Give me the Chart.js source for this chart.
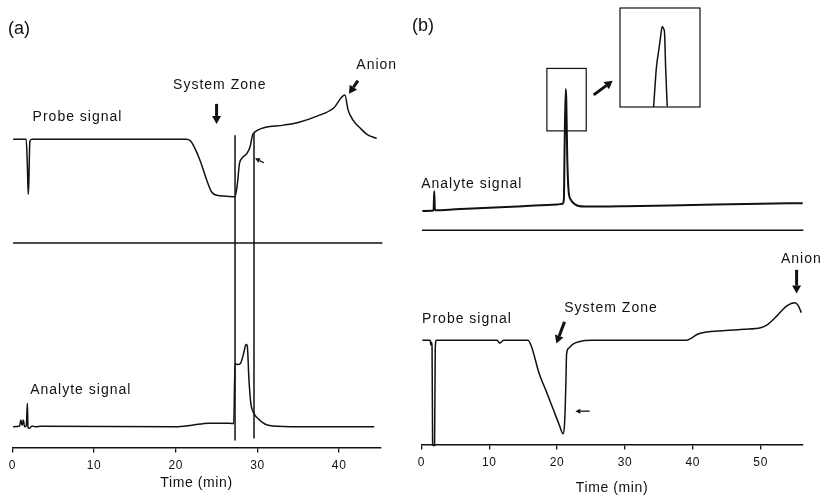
<!DOCTYPE html>
<html>
<head>
<meta charset="utf-8">
<script src="https://cdn.jsdelivr.net/npm/chart.js@4"></script>
<style>
  body { margin: 0; background: #fff; }
  #wrap { position: relative; width: 824px; height: 501px; background: #fff; }
  canvas { position: absolute; }
</style>
</head>
<body>
<div id="wrap">
  <canvas id="chartA" style="left:0;top:0" width="412" height="501"></canvas>
  <canvas id="chartB" style="left:412px;top:0" width="412" height="501"></canvas>
  <canvas id="inset" style="left:619px;top:7px" width="82" height="101"></canvas>
</div>
<script>
const INK = "#111";
const FONT = "'Liberation Sans', Arial, sans-serif";

// ---- panel (a) ----
const ticksA = [0, 10, 20, 30, 40];
const probeA_t = [0.1, 1.7, 1.85, 1.95, 2.02, 2.15, 2.4, 21.3, 21.8, 22.15, 22.97, 23.8, 24.4, 25.0, 26.2, 27.25,
  27.55, 27.8, 28.1, 28.7, 29.1, 29.4, 29.7, 30.7, 33.2, 35.2, 37.3, 39.3, 40.7, 41.1, 41.7, 42.6, 43.4, 44.6];
const probeA_v = [77, 77, 70, 63.2, 66, 76.5, 77, 77, 76.6, 75.5, 71.75, 66.75, 63.8, 63, 62.75, 62.6,
  65.9, 70.9, 72.2, 73.4, 75.1, 78, 78.8, 79.8, 80.5, 81.3, 82.75, 84.7, 88, 84.25, 81.75, 79.7, 78.2, 77.2];
const zeroA_t = [0.1, 45.3];
const zeroA_v = [51.1, 51.1];
const analyteA_t = [0.1, 0.9, 1.05, 1.2, 1.35, 1.5, 1.72, 1.84, 1.92, 2.1, 2.4, 2.8, 3.5, 20, 22, 24, 26, 27.1,
  27.26, 27.66, 27.95, 28.3, 28.6, 28.75, 28.97, 29.2, 29.5, 30.1, 30.9, 31.9, 35, 44.3];
const analyteA_v = [5.2, 5.4, 6.9, 5.6, 6.9, 5.2, 5.5, 11.1, 5.0, 4.8, 5.4, 5.2, 5.3, 5.2, 5.6, 6.1, 6.1, 6.0,
  20.9, 20.75, 21.1, 23.4, 25.75, 25.5, 16.75, 10.9, 8.8, 7.2, 5.9, 5.4, 5.2, 5.2];
const markA1_t = [27.26, 27.26];
const markA1_v = [78, 1.75];
const markA2_t = [29.58, 29.58];
const markA2_v = [78.5, 2.25];

// ---- panel (b) ----
const ticksB = [0, 10, 20, 30, 40, 50];
const analyteB_t = [0.15, 1.8, 1.9, 2.0, 5, 10, 15, 20, 20.8, 21.0, 21.12, 21.28, 21.36, 21.5, 21.7, 22, 22.6, 24, 30, 40, 50, 56.2];
const analyteB_v = [58.3, 58.4, 63.3, 58.5, 58.7, 59.1, 59.5, 59.9, 60.1, 61, 75, 88.75, 86, 72, 63.3, 61.2, 60, 59.4, 59.5, 59.8, 60.1, 60.25];
const zeroB_t = [0.1, 56.3];
const zeroB_v = [53.5, 53.5];
const probeB_t = [0.15, 1.3, 1.4, 1.5, 1.58, 1.66, 1.75, 1.95, 2.05, 2.2, 11.2, 11.5, 11.8, 12.1, 15.7, 16.2, 17.4, 18.4,
  19.35, 20.3, 20.9, 21.1, 21.2, 21.3, 21.4, 21.7, 22.3, 23.2, 25.2, 39.0, 39.75, 40.7, 42.2, 43.6, 47.5, 50.0, 50.9,
  52.4, 53.85, 55.05, 55.5, 56.0];
const probeB_v = [26, 26, 24.8, 25.5, 24.5, 0, -0.3, -0.3, 24, 26, 26, 25.3, 25.6, 26, 26, 24.6, 17.5, 13.3,
  9.15, 5.0, 2.65, 5, 9.15, 15, 22.5, 24, 25, 25.65, 26, 26, 26.5, 27.5, 28.1, 28.3, 28.75, 29.15, 29.8,
  32.1, 34.6, 35.4, 34.8, 32.9];

// ---- inset (zoomed analyte peak) ----
const insetPeak_t = [21.22, 21.256, 21.285, 21.306, 21.328, 21.345, 21.357, 21.37, 21.39];
const insetPeak_v = [0, 40.65, 57.6, 70, 81.3, 79, 74.9, 40.65, 0.7];

// ---- annotations (data units) ----
const labelsA = [
  { text: "(a)", t: -0.53, v: 104.5, size: 18, align: "left" },
  { text: "Probe signal", t: 7.98, v: 82.5 },
  { text: "System Zone", t: 25.4, v: 90.5 },
  { text: "Anion", t: 44.6, v: 95.5 },
  { text: "Analyte signal", t: 8.38, v: 14.25 },
];
const arrowsA = [
  { from: [25.0, 85.8], to: [25.0, 80.8], heavy: true },
  { from: [42.3, 91.6], to: [41.2, 88.3], heavy: true },
  { from: [30.8, 71.1], to: [29.7, 72.2], heavy: false },
];
const labelsB = [
  { text: "(b)", t: -1.36, v: 104.6, size: 18, align: "left" },
  { text: "Analyte signal", t: 7.43, v: 65 },
  { text: "Probe signal", t: 6.73, v: 31.25 },
  { text: "System Zone", t: 27.95, v: 34 },
  { text: "Anion", t: 56.0, v: 46.25 },
];
const arrowsB = [
  { from: [25.4, 87.3], to: [28.2, 90.8], heavy: true },
  { from: [21.1, 30.6], to: [19.9, 25.2], heavy: true },
  { from: [55.3, 43.6], to: [55.3, 37.7], heavy: true },
  { from: [24.8, 8.3], to: [22.7, 8.3], heavy: false },
];
const boxesB = [{ t0: 18.5, t1: 24.3, v0: 78.3, v1: 93.9 }];

function pairs(ts, vs) {
  return ts.map((t, i) => ({ x: t, y: vs[i] }));
}

function trace(ts, vs, smooth, width) {
  return {
    data: pairs(ts, vs),
    borderColor: INK,
    borderWidth: width || 1.5,
    pointRadius: 0,
    fill: false,
    clip: false,
    tension: 0,
    cubicInterpolationMode: smooth ? "monotone" : "default",
  };
}

function timeAxis(max, tickList, titlePad) {
  return {
    type: "linear",
    min: 0,
    max: max,
    afterBuildTicks: (scale) => {
      scale.ticks = tickList.map((v) => ({ value: v }));
    },
    grid: { drawOnChartArea: false, drawTicks: true, tickLength: 5, color: INK, lineWidth: 1.3 },
    border: { display: true, color: INK, width: 1.6 },
    ticks: { color: INK, font: { family: FONT, size: 12 }, padding: 6, maxRotation: 0, autoSkip: false },
    title: {
      display: true,
      text: "Time (min)",
      color: INK,
      font: { family: FONT, size: 14 },
      padding: { top: titlePad, bottom: 0 },
    },
  };
}

function drawArrow(ctx, x0, y0, x1, y1, heavy) {
  const ang = Math.atan2(y1 - y0, x1 - x0);
  const headLen = heavy ? 8 : 5;
  const headW = heavy ? 4.5 : 2.5;
  const bx = x1 - headLen * Math.cos(ang);
  const by = y1 - headLen * Math.sin(ang);
  ctx.strokeStyle = INK;
  ctx.fillStyle = INK;
  ctx.lineWidth = heavy ? 3 : 1.3;
  ctx.beginPath();
  ctx.moveTo(x0, y0);
  ctx.lineTo(bx, by);
  ctx.stroke();
  ctx.beginPath();
  ctx.moveTo(x1, y1);
  ctx.lineTo(bx + headW * Math.sin(ang), by - headW * Math.cos(ang));
  ctx.lineTo(bx - headW * Math.sin(ang), by + headW * Math.cos(ang));
  ctx.closePath();
  ctx.fill();
}

function notes(labels, arrows, boxes) {
  return {
    id: "notes",
    beforeDraw(chart) {
      chart.ctx.letterSpacing = "0.6px";
    },
    afterDraw(chart) {
      const ctx = chart.ctx;
      const xs = chart.scales.x;
      const ys = chart.scales.y;
      ctx.save();
      (boxes || []).forEach((b) => {
        const l = xs.getPixelForValue(b.t0), r = xs.getPixelForValue(b.t1);
        const tp = ys.getPixelForValue(b.v1), bt = ys.getPixelForValue(b.v0);
        ctx.strokeStyle = INK;
        ctx.lineWidth = 1.2;
        ctx.strokeRect(l, tp, r - l, bt - tp);
      });
      arrows.forEach((a) => {
        drawArrow(ctx, xs.getPixelForValue(a.from[0]), ys.getPixelForValue(a.from[1]),
          xs.getPixelForValue(a.to[0]), ys.getPixelForValue(a.to[1]), a.heavy);
      });
      labels.forEach((lb) => {
        ctx.font = (lb.size || 14) + "px " + FONT;
        ctx.letterSpacing = lb.size ? "0px" : "1px";
        ctx.fillStyle = INK;
        ctx.textAlign = lb.align || "center";
        ctx.textBaseline = "middle";
        ctx.fillText(lb.text, xs.getPixelForValue(lb.t), ys.getPixelForValue(lb.v));
      });
      ctx.restore();
    },
  };
}

const yHidden = { display: false, min: 0, max: 100 };

new Chart(document.getElementById("chartA"), {
  type: "line",
  data: {
    datasets: [
      trace(probeA_t, probeA_v, true),
      trace(zeroA_t, zeroA_v, false),
      trace(analyteA_t, analyteA_v, true),
      trace(markA1_t, markA1_v, false),
      trace(markA2_t, markA2_v, false),
    ],
  },
  options: {
    responsive: false,
    animation: false,
    events: [],
    layout: { padding: { left: 12.3, right: 31.2, top: 47, bottom: 9.2 } },
    plugins: { legend: { display: false }, tooltip: { enabled: false } },
    scales: { x: timeAxis(45.1, ticksA, -4), y: yHidden },
  },
  plugins: [notes(labelsA, arrowsA)],
});

new Chart(document.getElementById("chartB"), {
  type: "line",
  data: {
    datasets: [
      trace(analyteB_t, analyteB_v, true, 2),
      trace(zeroB_t, zeroB_v, false),
      trace(probeB_t, probeB_v, true),
    ],
  },
  options: {
    responsive: false,
    animation: false,
    events: [],
    layout: { padding: { left: 5.3, right: 21.3, top: 44, bottom: 4.4 } },
    plugins: { legend: { display: false }, tooltip: { enabled: false } },
    scales: { x: timeAxis(56.2, ticksB, 4), y: yHidden },
  },
  plugins: [notes(labelsB, arrowsB, boxesB)],
});

new Chart(document.getElementById("inset"), {
  type: "line",
  data: { datasets: [trace(insetPeak_t, insetPeak_v, true)] },
  options: {
    responsive: false,
    animation: false,
    events: [],
    layout: { padding: 1 },
    plugins: { legend: { display: false }, tooltip: { enabled: false } },
    scales: {
      x: { type: "linear", display: false, min: 20.8, max: 21.8 },
      y: { display: false, min: 0, max: 100 },
    },
  },
  plugins: [{
    id: "frame",
    afterDraw(chart) {
      const { left, top, right, bottom } = chart.chartArea;
      const ctx = chart.ctx;
      ctx.save();
      ctx.strokeStyle = INK;
      ctx.lineWidth = 1.2;
      ctx.strokeRect(left, top, right - left, bottom - top);
      ctx.restore();
    },
  }],
});
</script>
</body>
</html>
